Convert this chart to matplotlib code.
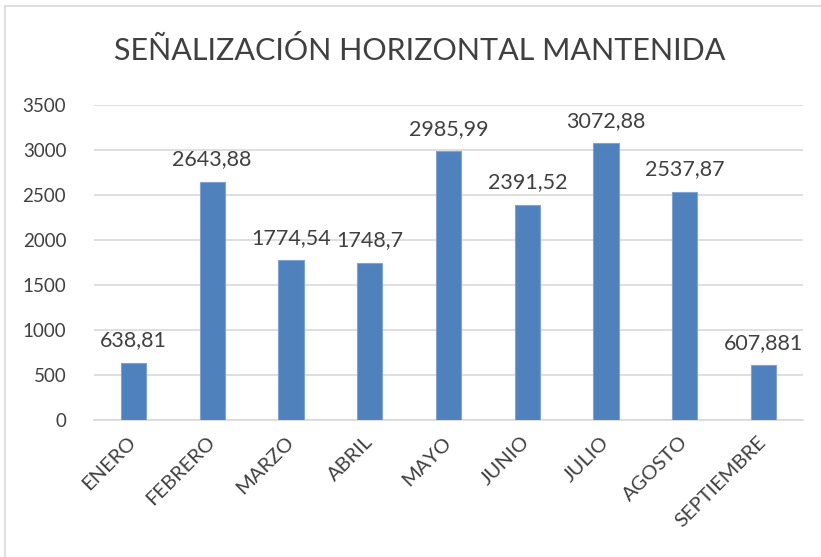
import matplotlib
matplotlib.use("Agg")
import matplotlib.pyplot as plt
from matplotlib.patches import Rectangle

months = ["ENERO", "FEBRERO", "MARZO", "ABRIL", "MAYO",
          "JUNIO", "JULIO", "AGOSTO", "SEPTIEMBRE"]
values = [638.81, 2643.88, 1774.54, 1748.7, 2985.99,
          2391.52, 3072.88, 2537.87, 607.881]
labels = ["638,81", "2643,88", "1774,54", "1748,7", "2985,99",
          "2391,52", "3072,88", "2537,87", "607,881"]
yticks = [0, 500, 1000, 1500, 2000, 2500, 3000, 3500]

plt.rcParams["font.family"] = ["Lato", "DejaVu Sans"]
txt = "#404040"

W, H = 821, 557
fig = plt.figure(figsize=(W / 100, H / 100), dpi=100)

# marco del área del gráfico (solo se ven los bordes superior e izquierdo)
fig.patches.append(Rectangle((5 / W, -0.2), 1.5, 1.2 - 6 / H, transform=fig.transFigure,
                             fill=False, edgecolor="#d9d9d9", linewidth=1.2))

ax = fig.add_axes([94 / W, 1 - 420 / H, (803 - 94) / W, (420 - 105) / H])
x = range(len(months))
ax.bar(x, values, width=0.32, color="#4f81bd", edgecolor="#7fa3d3",
       linewidth=0.8, zorder=3)

for xi, v, lab in zip(x, values, labels):
    ax.annotate(lab, (xi, v), xytext=(0, 9), textcoords="offset points",
                ha="center", va="bottom", fontsize=15.5, color=txt)

ax.set_xlim(-0.5, len(months) - 0.5)
ax.set_ylim(0, 3500)
ax.set_yticks(yticks)
ax.set_yticklabels([str(t) for t in yticks], fontsize=13.5, color=txt)
ax.yaxis.grid(True, color="#d9d9d9", linewidth=1.2, zorder=0)
ax.set_axisbelow(True)
ax.tick_params(axis="y", length=0, pad=20)
ax.tick_params(axis="x", length=0, pad=14)
ax.set_xticks(list(x))
ax.set_xticklabels(months, rotation=45, ha="right", va="center",
                   rotation_mode="anchor", fontsize=14.5, color=txt)
for s in ["top", "right", "left"]:
    ax.spines[s].set_visible(False)
ax.spines["bottom"].set_color("#d9d9d9")
ax.spines["bottom"].set_linewidth(1.2)

fig.text(420 / W, 1 - 50 / H, "SEÑALIZACIÓN HORIZONTAL MANTENIDA",
         ha="center", va="center", fontsize=22, color=txt)

fig.savefig("out.png", dpi=100)
